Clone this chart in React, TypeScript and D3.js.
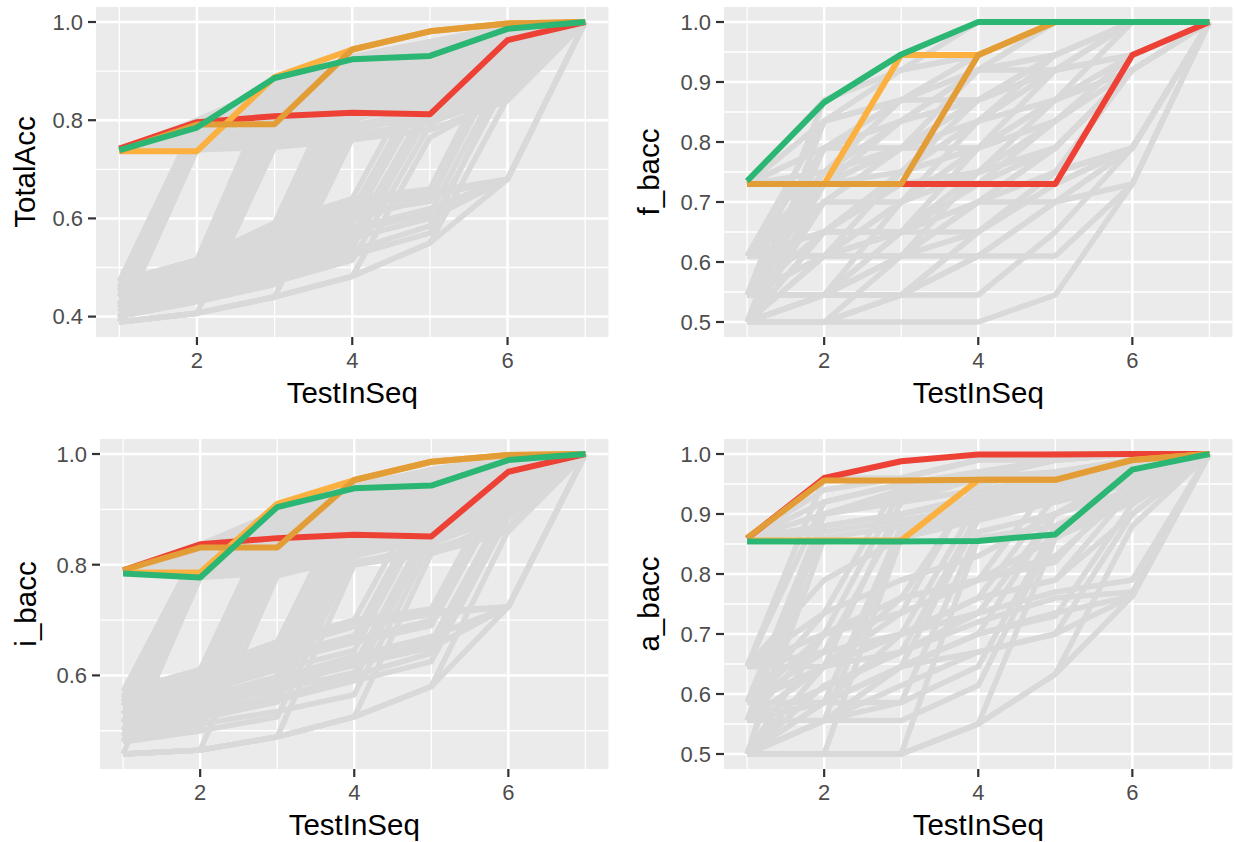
import React from "react";
import * as d3 from "d3";

// ---------------- data ----------------
const testInSeq = [1, 2, 3, 4, 5, 6, 7];

// TotalAcc panel
const totalAccGrey: number[][] = [
  [0.74, 0.74, 0.745, 0.76, 0.78, 0.84, 1],
  [0.74, 0.745, 0.76, 0.79, 0.82, 0.88, 1],
  [0.74, 0.75, 0.775, 0.82, 0.85, 0.9, 1],
  [0.74, 0.76, 0.79, 0.84, 0.87, 0.92, 1],
  [0.74, 0.77, 0.81, 0.86, 0.9, 0.95, 1],
  [0.74, 0.78, 0.83, 0.88, 0.92, 0.97, 1],
  [0.74, 0.79, 0.85, 0.9, 0.94, 0.985, 1],
  [0.74, 0.8, 0.87, 0.92, 0.96, 0.99, 1],
  [0.74, 0.745, 0.8, 0.85, 0.89, 0.94, 1],
  [0.74, 0.76, 0.82, 0.87, 0.91, 0.96, 1],
  [0.74, 0.755, 0.785, 0.83, 0.86, 0.91, 1],
  [0.74, 0.775, 0.84, 0.89, 0.93, 0.975, 1],
  [0.471, 0.8, 0.86, 0.91, 0.95, 0.99, 1],
  [0.46, 0.785, 0.84, 0.89, 0.93, 0.975, 1],
  [0.455, 0.775, 0.825, 0.875, 0.915, 0.965, 1],
  [0.45, 0.77, 0.815, 0.86, 0.9, 0.955, 1],
  [0.44, 0.76, 0.795, 0.84, 0.88, 0.935, 1],
  [0.425, 0.752, 0.78, 0.82, 0.86, 0.91, 1],
  [0.418, 0.748, 0.77, 0.81, 0.85, 0.9, 1],
  [0.41, 0.746, 0.765, 0.8, 0.84, 0.89, 1],
  [0.398, 0.742, 0.755, 0.78, 0.81, 0.86, 1],
  [0.389, 0.74, 0.748, 0.77, 0.795, 0.85, 1],
  [0.471, 0.515, 0.88, 0.925, 0.955, 0.99, 1],
  [0.468, 0.51, 0.87, 0.915, 0.95, 0.985, 1],
  [0.465, 0.5, 0.86, 0.905, 0.94, 0.98, 1],
  [0.455, 0.488, 0.84, 0.885, 0.925, 0.97, 1],
  [0.445, 0.475, 0.815, 0.865, 0.905, 0.955, 1],
  [0.44, 0.47, 0.805, 0.855, 0.895, 0.95, 1],
  [0.432, 0.462, 0.795, 0.845, 0.885, 0.94, 1],
  [0.42, 0.45, 0.775, 0.825, 0.865, 0.92, 1],
  [0.412, 0.44, 0.768, 0.815, 0.855, 0.91, 1],
  [0.405, 0.435, 0.76, 0.805, 0.845, 0.9, 1],
  [0.389, 0.407, 0.745, 0.78, 0.815, 0.87, 1],
  [0.471, 0.515, 0.59, 0.93, 0.96, 0.99, 1],
  [0.47, 0.51, 0.575, 0.915, 0.95, 0.985, 1],
  [0.462, 0.505, 0.565, 0.905, 0.945, 0.98, 1],
  [0.452, 0.49, 0.545, 0.88, 0.925, 0.97, 1],
  [0.445, 0.48, 0.535, 0.87, 0.915, 0.96, 1],
  [0.44, 0.475, 0.525, 0.86, 0.905, 0.955, 1],
  [0.428, 0.46, 0.505, 0.835, 0.88, 0.935, 1],
  [0.42, 0.455, 0.495, 0.82, 0.865, 0.925, 1],
  [0.415, 0.445, 0.485, 0.81, 0.855, 0.915, 1],
  [0.4, 0.43, 0.465, 0.785, 0.83, 0.89, 1],
  [0.389, 0.407, 0.44, 0.762, 0.8, 0.86, 1],
  [0.471, 0.515, 0.59, 0.64, 0.93, 0.985, 1],
  [0.46, 0.5, 0.565, 0.615, 0.9, 0.97, 1],
  [0.455, 0.495, 0.555, 0.605, 0.885, 0.96, 1],
  [0.448, 0.485, 0.54, 0.59, 0.87, 0.95, 1],
  [0.435, 0.468, 0.515, 0.565, 0.84, 0.93, 1],
  [0.43, 0.46, 0.505, 0.55, 0.83, 0.92, 1],
  [0.42, 0.452, 0.495, 0.54, 0.815, 0.905, 1],
  [0.405, 0.435, 0.47, 0.515, 0.79, 0.88, 1],
  [0.389, 0.407, 0.44, 0.482, 0.765, 0.85, 1],
  [0.471, 0.515, 0.59, 0.64, 0.66, 0.97, 1],
  [0.455, 0.495, 0.56, 0.61, 0.635, 0.94, 1],
  [0.45, 0.49, 0.55, 0.6, 0.64, 0.955, 1],
  [0.435, 0.47, 0.525, 0.575, 0.61, 0.91, 1],
  [0.415, 0.445, 0.49, 0.535, 0.585, 0.88, 1],
  [0.41, 0.44, 0.48, 0.525, 0.57, 0.9, 1],
  [0.389, 0.407, 0.44, 0.482, 0.55, 0.845, 1],
  [0.471, 0.515, 0.585, 0.63, 0.655, 0.68, 1],
  [0.465, 0.508, 0.575, 0.625, 0.645, 0.68, 1],
  [0.44, 0.478, 0.53, 0.58, 0.62, 0.68, 1],
  [0.43, 0.465, 0.515, 0.56, 0.6, 0.68, 1],
  [0.389, 0.407, 0.44, 0.482, 0.55, 0.68, 1],
];
const totalAccRed = [0.742, 0.796, 0.808, 0.815, 0.812, 0.963, 1];
const totalAccLightOrange = [0.737, 0.737, 0.888, 0.944, 0.981, 0.997, 1];
const totalAccDarkOrange = [0.737, 0.791, 0.792, 0.944, 0.981, 0.997, 1];
const totalAccGreen = [0.739, 0.785, 0.886, 0.924, 0.931, 0.986, 1];

// f_bacc panel
const fBaccGrey: number[][] = [
  [0.5, 0.5, 0.5, 0.5, 0.545, 0.73, 1],
  [0.5, 0.5, 0.545, 0.61, 0.7, 0.79, 1],
  [0.5, 0.545, 0.545, 0.65, 0.75, 0.92, 1],
  [0.5, 0.61, 0.7, 0.79, 0.87, 0.945, 1],
  [0.5, 0.7, 0.79, 0.87, 0.92, 1, 1],
  [0.5, 0.545, 0.65, 0.73, 0.835, 0.92, 1],
  [0.545, 0.545, 0.61, 0.7, 0.79, 0.92, 1],
  [0.545, 0.65, 0.75, 0.835, 0.92, 1, 1],
  [0.545, 0.79, 0.87, 0.92, 1, 1, 1],
  [0.545, 0.61, 0.61, 0.75, 0.79, 0.92, 1],
  [0.61, 0.61, 0.7, 0.79, 0.835, 0.945, 1],
  [0.61, 0.7, 0.7, 0.75, 0.87, 0.92, 1],
  [0.61, 0.79, 0.835, 0.92, 0.945, 1, 1],
  [0.61, 0.65, 0.75, 0.87, 0.945, 1, 1],
  [0.73, 0.79, 0.79, 0.87, 0.92, 0.945, 1],
  [0.73, 0.87, 0.92, 0.945, 1, 1, 1],
  [0.73, 0.75, 0.835, 0.92, 1, 1, 1],
  [0.5, 0.5, 0.61, 0.7, 0.7, 0.79, 1],
  [0.5, 0.545, 0.7, 0.75, 0.79, 0.92, 1],
  [0.545, 0.545, 0.545, 0.65, 0.73, 0.79, 1],
  [0.5, 0.65, 0.65, 0.73, 0.79, 0.92, 1],
  [0.545, 0.7, 0.79, 0.79, 0.87, 0.945, 1],
  [0.61, 0.61, 0.65, 0.65, 0.75, 0.79, 1],
  [0.5, 0.5, 0.545, 0.545, 0.65, 0.79, 1],
  [0.5, 0.61, 0.65, 0.7, 0.79, 0.92, 1],
  [0.545, 0.61, 0.7, 0.835, 0.87, 1, 1],
  [0.61, 0.75, 0.87, 0.87, 0.92, 1, 1],
  [0.73, 0.835, 0.87, 0.945, 1, 1, 1],
  [0.5, 0.79, 0.87, 0.945, 1, 1, 1],
  [0.545, 0.87, 0.92, 1, 1, 1, 1],
  [0.5, 0.545, 0.61, 0.61, 0.7, 0.73, 1],
  [0.61, 0.7, 0.79, 0.92, 0.92, 1, 1],
  [0.545, 0.545, 0.65, 0.79, 0.835, 0.945, 1],
  [0.5, 0.61, 0.75, 0.79, 0.92, 0.945, 1],
  [0.73, 0.73, 0.79, 0.87, 0.945, 1, 1],
  [0.5, 0.73, 0.835, 0.92, 1, 1, 1],
  [0.545, 0.73, 0.79, 0.87, 0.92, 1, 1],
  [0.61, 0.73, 0.75, 0.835, 0.92, 0.945, 1],
  [0.5, 0.835, 0.87, 0.92, 0.945, 1, 1],
  [0.61, 0.835, 0.92, 0.945, 1, 1, 1],
  [0.545, 0.75, 0.79, 0.835, 0.945, 1, 1],
  [0.61, 0.65, 0.65, 0.79, 0.87, 0.92, 1],
  [0.5, 0.65, 0.73, 0.75, 0.835, 0.945, 1],
  [0.545, 0.65, 0.65, 0.7, 0.79, 0.92, 1],
  [0.73, 0.79, 0.835, 0.87, 0.945, 1, 1],
  [0.5, 0.545, 0.61, 0.65, 0.73, 0.79, 1],
  [0.61, 0.61, 0.61, 0.7, 0.75, 0.79, 1],
  [0.545, 0.61, 0.65, 0.75, 0.79, 0.92, 1],
  [0.5, 0.5, 0.545, 0.61, 0.61, 0.73, 1],
];
const fBaccRed = [0.73, 0.73, 0.73, 0.73, 0.73, 0.945, 1];
const fBaccLightOrange = [0.73, 0.73, 0.945, 0.945, 1, 1, 1];
const fBaccDarkOrange = [0.73, 0.73, 0.73, 0.945, 1, 1, 1];
const fBaccGreen = [0.735, 0.866, 0.946, 1, 1, 1, 1];

// i_bacc panel
const iBaccGrey: number[][] = [
  [0.787, 0.787, 0.79, 0.8, 0.82, 0.86, 1],
  [0.787, 0.792, 0.805, 0.83, 0.85, 0.89, 1],
  [0.787, 0.8, 0.82, 0.85, 0.875, 0.915, 1],
  [0.787, 0.808, 0.835, 0.87, 0.9, 0.94, 1],
  [0.787, 0.815, 0.85, 0.89, 0.925, 0.96, 1],
  [0.787, 0.822, 0.865, 0.91, 0.945, 0.975, 1],
  [0.787, 0.83, 0.88, 0.925, 0.96, 0.988, 1],
  [0.787, 0.836, 0.895, 0.94, 0.972, 0.994, 1],
  [0.787, 0.795, 0.84, 0.88, 0.91, 0.95, 1],
  [0.787, 0.805, 0.86, 0.9, 0.935, 0.97, 1],
  [0.787, 0.8, 0.828, 0.86, 0.888, 0.928, 1],
  [0.787, 0.818, 0.872, 0.918, 0.952, 0.982, 1],
  [0.571, 0.836, 0.885, 0.93, 0.965, 0.992, 1],
  [0.56, 0.825, 0.865, 0.91, 0.945, 0.982, 1],
  [0.552, 0.818, 0.856, 0.9, 0.935, 0.975, 1],
  [0.545, 0.812, 0.848, 0.89, 0.925, 0.968, 1],
  [0.53, 0.8, 0.832, 0.87, 0.905, 0.95, 1],
  [0.515, 0.792, 0.818, 0.852, 0.885, 0.93, 1],
  [0.5, 0.785, 0.806, 0.835, 0.865, 0.91, 1],
  [0.49, 0.782, 0.8, 0.826, 0.855, 0.9, 1],
  [0.48, 0.78, 0.795, 0.818, 0.845, 0.89, 1],
  [0.458, 0.777, 0.786, 0.805, 0.828, 0.87, 1],
  [0.571, 0.61, 0.905, 0.945, 0.97, 0.993, 1],
  [0.565, 0.602, 0.895, 0.937, 0.965, 0.99, 1],
  [0.56, 0.595, 0.885, 0.928, 0.958, 0.985, 1],
  [0.545, 0.578, 0.865, 0.91, 0.942, 0.975, 1],
  [0.538, 0.57, 0.857, 0.9, 0.933, 0.97, 1],
  [0.53, 0.56, 0.848, 0.892, 0.925, 0.963, 1],
  [0.515, 0.542, 0.83, 0.875, 0.908, 0.95, 1],
  [0.5, 0.522, 0.812, 0.858, 0.89, 0.935, 1],
  [0.49, 0.51, 0.803, 0.848, 0.88, 0.925, 1],
  [0.48, 0.5, 0.795, 0.838, 0.87, 0.915, 1],
  [0.458, 0.465, 0.78, 0.815, 0.848, 0.895, 1],
  [0.571, 0.61, 0.66, 0.94, 0.968, 0.99, 1],
  [0.565, 0.602, 0.65, 0.93, 0.962, 0.986, 1],
  [0.56, 0.595, 0.64, 0.92, 0.955, 0.982, 1],
  [0.545, 0.578, 0.62, 0.9, 0.938, 0.972, 1],
  [0.538, 0.57, 0.61, 0.89, 0.93, 0.966, 1],
  [0.53, 0.56, 0.598, 0.88, 0.92, 0.96, 1],
  [0.515, 0.542, 0.576, 0.86, 0.9, 0.945, 1],
  [0.508, 0.532, 0.565, 0.85, 0.89, 0.937, 1],
  [0.5, 0.522, 0.552, 0.84, 0.88, 0.928, 1],
  [0.48, 0.5, 0.525, 0.82, 0.86, 0.91, 1],
  [0.458, 0.465, 0.489, 0.8, 0.838, 0.89, 1],
  [0.571, 0.61, 0.66, 0.7, 0.955, 0.99, 1],
  [0.558, 0.592, 0.635, 0.672, 0.93, 0.978, 1],
  [0.55, 0.585, 0.625, 0.66, 0.92, 0.97, 1],
  [0.543, 0.574, 0.61, 0.645, 0.905, 0.962, 1],
  [0.527, 0.555, 0.585, 0.618, 0.88, 0.945, 1],
  [0.52, 0.545, 0.575, 0.605, 0.87, 0.935, 1],
  [0.51, 0.535, 0.56, 0.592, 0.86, 0.925, 1],
  [0.49, 0.512, 0.535, 0.565, 0.84, 0.905, 1],
  [0.458, 0.465, 0.489, 0.525, 0.82, 0.885, 1],
  [0.571, 0.61, 0.66, 0.7, 0.72, 0.975, 1],
  [0.552, 0.585, 0.625, 0.66, 0.69, 0.945, 1],
  [0.55, 0.585, 0.63, 0.665, 0.7, 0.96, 1],
  [0.53, 0.558, 0.59, 0.625, 0.66, 0.915, 1],
  [0.505, 0.53, 0.555, 0.59, 0.625, 0.887, 1],
  [0.505, 0.53, 0.56, 0.6, 0.64, 0.9, 1],
  [0.458, 0.465, 0.489, 0.525, 0.58, 0.862, 1],
  [0.571, 0.61, 0.655, 0.695, 0.715, 0.724, 1],
  [0.565, 0.602, 0.648, 0.688, 0.71, 0.724, 1],
  [0.53, 0.56, 0.595, 0.635, 0.67, 0.724, 1],
  [0.52, 0.55, 0.58, 0.62, 0.65, 0.724, 1],
  [0.458, 0.465, 0.489, 0.525, 0.58, 0.724, 1],
];
const iBaccRed = [0.79, 0.837, 0.848, 0.854, 0.851, 0.968, 1];
const iBaccLightOrange = [0.786, 0.786, 0.91, 0.953, 0.986, 0.998, 1];
const iBaccDarkOrange = [0.79, 0.831, 0.831, 0.953, 0.986, 0.998, 1];
const iBaccGreen = [0.784, 0.777, 0.904, 0.938, 0.943, 0.989, 1];

// a_bacc panel
const aBaccGrey: number[][] = [
  [0.86, 0.88, 0.9, 0.92, 0.94, 0.97, 1],
  [0.86, 0.9, 0.93, 0.96, 0.97, 0.99, 1],
  [0.86, 0.92, 0.95, 0.97, 0.99, 1, 1],
  [0.86, 0.94, 0.96, 0.99, 0.99, 1, 1],
  [0.86, 0.87, 0.89, 0.91, 0.93, 0.95, 1],
  [0.5, 0.86, 0.88, 0.9, 0.92, 0.96, 1],
  [0.556, 0.88, 0.9, 0.93, 0.96, 0.99, 1],
  [0.586, 0.9, 0.94, 0.96, 0.99, 1, 1],
  [0.646, 0.96, 0.96, 0.99, 1, 1, 1],
  [0.5, 0.9, 0.92, 0.94, 0.96, 0.99, 1],
  [0.646, 0.92, 0.95, 0.97, 0.99, 1, 1],
  [0.556, 0.9, 0.92, 0.96, 0.97, 0.99, 1],
  [0.5, 0.5, 0.86, 0.89, 0.92, 0.95, 1],
  [0.5, 0.586, 0.88, 0.91, 0.94, 0.97, 1],
  [0.556, 0.646, 0.92, 0.94, 0.96, 0.99, 1],
  [0.586, 0.7, 0.94, 0.96, 0.99, 1, 1],
  [0.646, 0.735, 0.96, 0.99, 1, 1, 1],
  [0.556, 0.556, 0.87, 0.9, 0.93, 0.96, 1],
  [0.586, 0.67, 0.9, 0.92, 0.96, 0.99, 1],
  [0.646, 0.79, 0.86, 0.9, 0.94, 0.99, 1],
  [0.5, 0.5, 0.5, 0.86, 0.88, 0.92, 1],
  [0.5, 0.556, 0.646, 0.89, 0.92, 0.96, 1],
  [0.556, 0.586, 0.7, 0.92, 0.95, 0.98, 1],
  [0.586, 0.646, 0.76, 0.95, 0.97, 0.99, 1],
  [0.646, 0.7, 0.735, 0.96, 0.99, 1, 1],
  [0.5, 0.586, 0.586, 0.87, 0.9, 0.94, 1],
  [0.556, 0.61, 0.67, 0.9, 0.93, 0.97, 1],
  [0.5, 0.5, 0.5, 0.55, 0.86, 0.92, 1],
  [0.5, 0.556, 0.586, 0.646, 0.88, 0.94, 1],
  [0.556, 0.586, 0.646, 0.7, 0.9, 0.96, 1],
  [0.586, 0.646, 0.7, 0.76, 0.93, 0.98, 1],
  [0.646, 0.646, 0.735, 0.79, 0.96, 0.99, 1],
  [0.5, 0.556, 0.556, 0.614, 0.87, 0.93, 1],
  [0.5, 0.614, 0.67, 0.735, 0.9, 0.97, 1],
  [0.646, 0.67, 0.7, 0.735, 0.9, 0.96, 1],
  [0.5, 0.5, 0.5, 0.55, 0.633, 0.88, 1],
  [0.5, 0.556, 0.646, 0.7, 0.73, 0.916, 1],
  [0.556, 0.646, 0.7, 0.76, 0.79, 0.94, 1],
  [0.646, 0.7, 0.76, 0.79, 0.82, 0.96, 1],
  [0.586, 0.586, 0.646, 0.67, 0.7, 0.9, 1],
  [0.5, 0.646, 0.7, 0.76, 0.79, 0.9, 1],
  [0.556, 0.7, 0.735, 0.79, 0.83, 0.94, 1],
  [0.586, 0.735, 0.79, 0.83, 0.9, 0.96, 1],
  [0.5, 0.7, 0.76, 0.79, 0.86, 0.94, 1],
  [0.5, 0.5, 0.5, 0.55, 0.633, 0.763, 1],
  [0.556, 0.586, 0.646, 0.7, 0.735, 0.763, 1],
  [0.586, 0.646, 0.7, 0.735, 0.77, 0.79, 1],
  [0.646, 0.646, 0.67, 0.72, 0.76, 0.77, 1],
  [0.5, 0.556, 0.614, 0.67, 0.7, 0.763, 1],
];
const aBaccRed = [0.859, 0.96, 0.988, 0.999, 0.999, 1, 1];
const aBaccLightOrange = [0.856, 0.856, 0.856, 0.957, 0.957, 0.99, 1];
const aBaccDarkOrange = [0.86, 0.956, 0.956, 0.957, 0.957, 0.99, 1];
const aBaccGreen = [0.854, 0.854, 0.854, 0.855, 0.866, 0.974, 1];

const xTicks = [2, 4, 6];
const xMinor = [1, 3, 5, 7];
const totalAccTicks = [0.4, 0.6, 0.8, 1.0];
const iBaccTicks = [0.6, 0.8, 1.0];
const tenthTicks = [0.5, 0.6, 0.7, 0.8, 0.9, 1.0];

// ---------------- styling ----------------
const COLORS = {
  grey: "#D9D9D9",
  red: "#EE4136",
  lightOrange: "#FBB040",
  darkOrange: "#E39D37",
  green: "#2CB673",
};
const FONT = "'Liberation Sans', Arial, Helvetica, sans-serif";

type PanelSpec = {
  title: string;
  grey: number[][];
  highlights: { values: number[]; color: string }[];
  yTicks: number[];
  left: number;
  right: number;
  top: number;
  bottom: number;
  yTitleX: number;
};

const panels: PanelSpec[] = [
  {
    title: "TotalAcc",
    grey: totalAccGrey,
    highlights: [
      { values: totalAccRed, color: COLORS.red },
      { values: totalAccLightOrange, color: COLORS.lightOrange },
      { values: totalAccDarkOrange, color: COLORS.darkOrange },
      { values: totalAccGreen, color: COLORS.green },
    ],
    yTicks: totalAccTicks,
    left: 96, right: 608.5, top: 7, bottom: 337, yTitleX: 35,
  },
  {
    title: "f_bacc",
    grey: fBaccGrey,
    highlights: [
      { values: fBaccRed, color: COLORS.red },
      { values: fBaccLightOrange, color: COLORS.lightOrange },
      { values: fBaccDarkOrange, color: COLORS.darkOrange },
      { values: fBaccGreen, color: COLORS.green },
    ],
    yTicks: tenthTicks,
    left: 724, right: 1232.5, top: 7, bottom: 337, yTitleX: 659,
  },
  {
    title: "i_bacc",
    grey: iBaccGrey,
    highlights: [
      { values: iBaccRed, color: COLORS.red },
      { values: iBaccLightOrange, color: COLORS.lightOrange },
      { values: iBaccDarkOrange, color: COLORS.darkOrange },
      { values: iBaccGreen, color: COLORS.green },
    ],
    yTicks: iBaccTicks,
    left: 100, right: 608.5, top: 439, bottom: 769, yTitleX: 35.5,
  },
  {
    title: "a_bacc",
    grey: aBaccGrey,
    highlights: [
      { values: aBaccRed, color: COLORS.red },
      { values: aBaccLightOrange, color: COLORS.lightOrange },
      { values: aBaccDarkOrange, color: COLORS.darkOrange },
      { values: aBaccGreen, color: COLORS.green },
    ],
    yTicks: tenthTicks,
    left: 724, right: 1232.5, top: 439, bottom: 769, yTitleX: 659,
  },
];

function Panel({ p }: { p: PanelSpec }) {
  const all = p.grey.flat().concat(p.highlights.flatMap((h) => h.values));
  const [mn, mx] = d3.extent(all) as [number, number];
  const r = mx - mn;
  const y = d3.scaleLinear().domain([mn - 0.05 * r, mx + 0.05 * r]).range([p.bottom, p.top]);
  const x = d3.scaleLinear().domain([0.7, 7.3]).range([p.left, p.right]);
  const line = d3
    .line<number>()
    .x((_, i) => x(testInSeq[i]))
    .y((v) => y(v));

  const step = p.yTicks[1] - p.yTicks[0];
  const yMinor = p.yTicks
    .map((t) => t - step / 2)
    .concat([p.yTicks[p.yTicks.length - 1] + step / 2])
    .filter((v) => y(v) >= p.top && y(v) <= p.bottom);

  const cx = (p.left + p.right) / 2;
  const cy = (p.top + p.bottom) / 2;

  return (
    <g>
      <rect x={p.left} y={p.top} width={p.right - p.left} height={p.bottom - p.top} fill="#EBEBEB" />
      {yMinor.map((v) => (
        <line key={"ym" + v} x1={p.left} x2={p.right} y1={y(v)} y2={y(v)} stroke="#fff" strokeWidth={1.3} />
      ))}
      {xMinor.map((v) => (
        <line key={"xm" + v} x1={x(v)} x2={x(v)} y1={p.top} y2={p.bottom} stroke="#fff" strokeWidth={1.3} />
      ))}
      {p.yTicks.map((v) => (
        <line key={"yM" + v} x1={p.left} x2={p.right} y1={y(v)} y2={y(v)} stroke="#fff" strokeWidth={2.5} />
      ))}
      {xTicks.map((v) => (
        <line key={"xM" + v} x1={x(v)} x2={x(v)} y1={p.top} y2={p.bottom} stroke="#fff" strokeWidth={2.5} />
      ))}
      <g fill="none" strokeLinejoin="round" strokeLinecap="butt">
        {p.grey.map((vals, i) => (
          <path key={"g" + i} d={line(vals) || ""} stroke={COLORS.grey} strokeWidth={5.5} />
        ))}
        {p.highlights.map((h, i) => (
          <path key={"h" + i} d={line(h.values) || ""} stroke={h.color} strokeWidth={6} />
        ))}
      </g>
      {p.yTicks.map((v) => (
        <g key={"yt" + v}>
          <line x1={p.left - 8} x2={p.left} y1={y(v)} y2={y(v)} stroke="#333333" strokeWidth={2.2} />
          <text x={p.left - 13} y={y(v) + 7.9} textAnchor="end" fontSize={22} fill="#4D4D4D" fontFamily={FONT}>
            {v.toFixed(1)}
          </text>
        </g>
      ))}
      {xTicks.map((v) => (
        <g key={"xt" + v}>
          <line x1={x(v)} x2={x(v)} y1={p.bottom} y2={p.bottom + 8} stroke="#333333" strokeWidth={2.2} />
          <text x={x(v)} y={p.bottom + 30.5} textAnchor="middle" fontSize={22} fill="#4D4D4D" fontFamily={FONT}>
            {v}
          </text>
        </g>
      ))}
      <text x={cx} y={p.bottom + 66} textAnchor="middle" fontSize={29.5} fill="#000" fontFamily={FONT}>
        TestInSeq
      </text>
      <text
        transform={`translate(${p.yTitleX},${cy}) rotate(-90)`}
        textAnchor="middle"
        fontSize={29.5}
        fill="#000"
        fontFamily={FONT}
      >
        {p.title}
      </text>
    </g>
  );
}

export default function App() {
  return (
    <svg width={1236} height={842} style={{ position: "absolute", left: 0, top: 0, background: "#fff" }}>
      <rect x={0} y={0} width={1236} height={842} fill="#fff" />
      {panels.map((p) => (
        <Panel key={p.title} p={p} />
      ))}
    </svg>
  );
}
